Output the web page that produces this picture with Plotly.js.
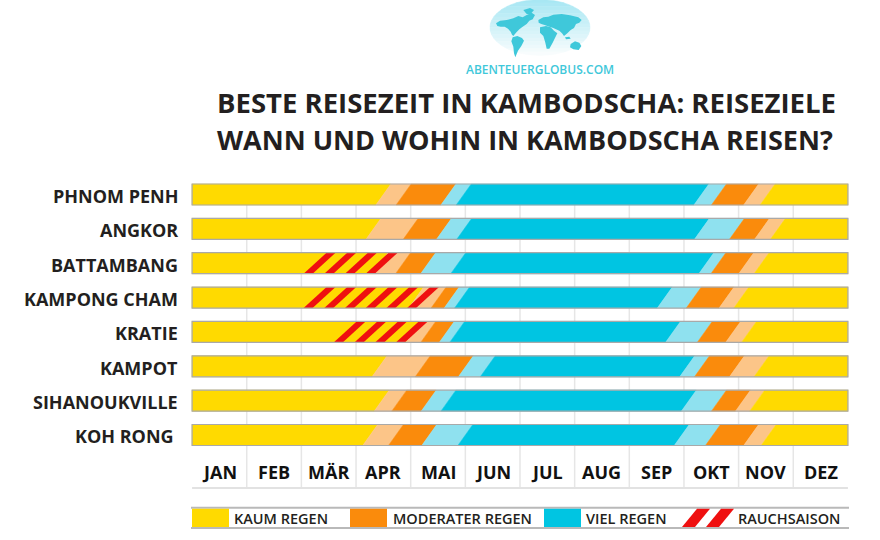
<!DOCTYPE html>
<html>
<head>
<meta charset="utf-8">
<script src="https://cdn.plot.ly/plotly-3.0.1.min.js"></script>
<style>html,body{margin:0;padding:0;background:#fff}</style>
</head>
<body>
<div id="chart" style="width:880px;height:540px"></div>
<script>
// Destinations (one bar each) and month captions
const destinations = ['PHNOM PENH', 'ANGKOR', 'BATTAMBANG', 'KAMPONG CHAM', 'KRATIE', 'KAMPOT', 'SIHANOUKVILLE', 'KOH RONG '];
const months = ['JAN', 'FEB', 'MÄR', 'APR', 'MAI', 'JUN', 'JUL', 'AUG', 'SEP', 'OKT', 'NOV', 'DEZ'];

// Season boundaries in months counted from 1 January (0) to 31 December (12)
const dryEnds        = [3.50, 3.32, 3.45, 4.10, 4.05, 3.43, 3.47, 3.26];
const moderateStarts = [3.87, 4.00, 3.86, 4.51, 4.32, 4.22, 3.79, 3.73];
const moderateEnds   = [4.69, 4.61, 4.32, 4.75, 4.66, 5.01, 4.33, 4.34];
const rainStarts     = [4.97, 4.98, 4.87, 4.94, 4.85, 5.41, 4.69, 5.00];
const rainEnds       = [9.32, 9.33, 9.41, 8.65, 8.80, 9.06, 9.09, 8.96];
const lateModStarts  = [9.64, 9.97, 9.63, 9.18, 9.38, 9.33, 9.64, 9.53];
const lateModEnds    = [10.23, 10.43, 10.14, 9.78, 9.90, 9.97, 10.08, 10.23];
const dryStarts      = [10.53, 10.72, 10.42, 10.05, 10.19, 10.42, 10.34, 10.55];

// Smoke season: month where the hatching begins and how many stripes it has
const smokeStarts  = [null, null, 2.04, 2.04, 2.59, null, null, null];
const smokeStripes = [0, 0, 4, 6, 4, 0, 0, 0];

const legendLabels = ['KAUM REGEN', 'MODERATER REGEN', 'VIEL REGEN', 'RAUCHSAISON'];

// ---- styling ----
const C = {
  dry: '#FFDA00', trans: '#FCC588', moderate: '#FA8B0C',
  lightRain: '#8FE1EF', rain: '#00C5E2', smoke: '#EF1010',
  text: '#231F20', grid: '#E6E6E6', frame: '#A9A9A9', logo: '#3FC8DA'
};
const FONT = 'Open Sans, Noto Sans, sans-serif';

// plot box in pixels
const M = {l: 191, r: 31, t: 175, b: 0};
const W = 880, Hgt = 540;
const PW = W - M.l - M.r, PH = Hgt - M.t - M.b;
const xp = px => (px - M.l) / PW;
const yp = py => (Hgt - M.b - py) / PH;

const ROW = 34.36;                 // px per row
const yTop = -(194.5 - M.t) / ROW; // first bar centre at 194.5px
const yBottom = yTop + PH / ROW;
const MPX = PW / 12.04;            // px per month
const HALF = 10.5 / ROW;           // half bar height (y units)
const SLANT = 15 / MPX;            // slant of season transitions
const ST_W = 9 / MPX, ST_S = 23 / MPX, ST_P = 20.7 / MPX;
const MONTH_ROW = 8.07, MONTH_LINE = 8.54;

const shapes = [];
const annotations = [];

// light month grid
for (let m = 1; m < 12; m++) {
  shapes.push({type: 'line', xref: 'x', yref: 'y', x0: m, x1: m, y0: -HALF, y1: MONTH_LINE,
    line: {color: C.grid, width: 1.5}, layer: 'below'});
}
shapes.push({type: 'line', xref: 'x', yref: 'y', x0: 0, x1: 12, y0: MONTH_LINE, y1: MONTH_LINE,
  line: {color: '#E2E2E2', width: 2}, layer: 'below'});

// season bars
const segColors = [C.dry, C.trans, C.moderate, C.lightRain, C.rain, C.lightRain, C.moderate, C.trans, C.dry];
destinations.forEach((name, i) => {
  const edges = [0, dryEnds[i], moderateStarts[i], moderateEnds[i], rainStarts[i],
    rainEnds[i], lateModStarts[i], lateModEnds[i], dryStarts[i], 12];
  const yb = i + HALF, yt = i - HALF;
  for (let k = 0; k < segColors.length; k++) {
    const l = edges[k], r = edges[k + 1];
    const lb = k === 0 ? l : l - SLANT / 2, lt = k === 0 ? l : l + SLANT / 2;
    const rb = k === 8 ? r : r - SLANT / 2, rt = k === 8 ? r : r + SLANT / 2;
    shapes.push({type: 'path', xref: 'x', yref: 'y',
      path: `M${lb},${yb} L${rb},${yb} L${rt},${yt} L${lt},${yt} Z`,
      fillcolor: segColors[k], line: {color: segColors[k], width: 0.5}, layer: 'above'});
  }
  if (smokeStarts[i] !== null) {
    for (let s = 0; s < smokeStripes[i]; s++) {
      const x0 = smokeStarts[i] + s * ST_P;
      shapes.push({type: 'path', xref: 'x', yref: 'y',
        path: `M${x0},${yb} L${x0 + ST_W},${yb} L${x0 + ST_W + ST_S},${yt} L${x0 + ST_S},${yt} Z`,
        fillcolor: C.smoke, line: {width: 0}, layer: 'above'});
    }
  }
  shapes.push({type: 'rect', xref: 'x', yref: 'y', x0: 0, x1: 12, y0: yt, y1: yb,
    line: {color: C.frame, width: 1.2}, fillcolor: 'rgba(0,0,0,0)', layer: 'above'});

  annotations.push({xref: 'paper', yref: 'y', x: xp(179.5), y: i + 0.04, text: name,
    xanchor: 'right', yanchor: 'middle', showarrow: false,
    font: {family: FONT, size: 18, color: C.text, weight: 700}});
});

// month captions
months.forEach((m, k) => {
  annotations.push({xref: 'x', yref: 'y', x: k + 0.5, y: MONTH_ROW, text: m,
    xanchor: 'center', yanchor: 'middle', showarrow: false,
    font: {family: FONT, size: 18, color: '#111', weight: 700}});
});

// legend strip
const LT = 507.7, LB = 528;
shapes.push({type: 'line', xref: 'paper', yref: 'paper', x0: xp(191), x1: xp(849), y0: yp(LT), y1: yp(LT),
  line: {color: '#B9B9B9', width: 2}});
shapes.push({type: 'line', xref: 'paper', yref: 'paper', x0: xp(191), x1: xp(849), y0: yp(LB), y1: yp(LB),
  line: {color: '#B9B9B9', width: 2}});
[[192, 229, C.dry], [350, 387, C.moderate], [544, 581, C.rain]].forEach(([a, b, c]) => {
  shapes.push({type: 'rect', xref: 'paper', yref: 'paper', x0: xp(a), x1: xp(b), y0: yp(LT + 1), y1: yp(LB - 1),
    fillcolor: c, line: {width: 0}});
});
[682, 706].forEach(a => {
  const b0 = yp(LB - 1), t0 = yp(LT + 1);
  shapes.push({type: 'path', xref: 'paper', yref: 'paper',
    path: `M${xp(a)},${b0} L${xp(a + 13)},${b0} L${xp(a + 28)},${t0} L${xp(a + 15)},${t0} Z`,
    fillcolor: C.smoke, line: {width: 0}});
});
[232, 391, 584, 736].forEach((px, k) => {
  annotations.push({xref: 'paper', yref: 'paper', x: xp(px), y: yp(518), text: legendLabels[k],
    xanchor: 'left', yanchor: 'middle', showarrow: false,
    font: {family: FONT, size: 14.5, color: C.text, weight: 600}});
});

// heading
annotations.push({xref: 'paper', yref: 'paper', x: xp(838), y: yp(103), xanchor: 'right', yanchor: 'middle',
  text: 'BESTE REISEZEIT IN KAMBODSCHA: REISEZIELE', showarrow: false,
  font: {family: FONT, size: 27.5, color: C.text, weight: 700}});
annotations.push({xref: 'paper', yref: 'paper', x: xp(835), y: yp(139), xanchor: 'right', yanchor: 'middle',
  text: 'WANN UND WOHIN IN KAMBODSCHA REISEN?', showarrow: false,
  font: {family: FONT, size: 27, color: C.text, weight: 700}});

// globe badge: ellipse with a vertical fade, drawn in horizontal slices
const G = {cx: 540, cy: 27.5, rx: 50, ry: 28};
const N = 16;
for (let j = 0; j < N; j++) {
  const y0 = G.cy - G.ry + j * (2 * G.ry / N), y1 = y0 + 2 * G.ry / N;
  const pts = [];
  const sub = 4;
  for (let s = 0; s <= sub; s++) {
    const y = y0 + (y1 - y0) * s / sub;
    const w = G.rx * Math.sqrt(Math.max(0, 1 - ((y - G.cy) / G.ry) ** 2));
    pts.push([G.cx - w, y]);
  }
  for (let s = sub; s >= 0; s--) {
    const y = y0 + (y1 - y0) * s / sub;
    const w = G.rx * Math.sqrt(Math.max(0, 1 - ((y - G.cy) / G.ry) ** 2));
    pts.push([G.cx + w, y]);
  }
  const t = j / (N - 1);
  const r = Math.round(168 + t * 80), g = Math.round(231 + t * 21), b = Math.round(243 + t * 10);
  shapes.push({type: 'path', xref: 'paper', yref: 'paper',
    path: 'M' + pts.map(p => `${xp(p[0])},${yp(p[1])}`).join(' L') + ' Z',
    fillcolor: `rgb(${r},${g},${b})`, line: {color: `rgb(${r},${g},${b})`, width: 0.5}});
}
const land = [
  [[48,70],[60,62],[80,60],[100,55],[115,48],[128,52],[140,45],[155,38],[165,45],[158,58],[148,62],[140,72],[128,80],[118,88],[108,98],[100,108],[96,104],[92,95],[84,86],[74,80],[62,80],[52,78]],
  [[130,30],[150,24],[162,30],[152,42],[140,42]],
  [[98,112],[112,108],[126,114],[132,122],[124,138],[114,152],[106,172],[102,160],[100,140],[94,124]],
  [[175,60],[190,52],[205,50],[220,44],[245,42],[270,46],[295,52],[305,60],[298,68],[288,72],[282,84],[272,90],[262,100],[252,108],[246,100],[238,92],[228,88],[220,84],[208,80],[196,76],[184,72],[176,68]],
  [[180,82],[198,78],[212,82],[222,92],[232,100],[226,112],[218,128],[208,146],[200,146],[196,128],[190,108],[180,98]],
  [[272,132],[285,124],[298,128],[304,138],[296,150],[280,148],[270,142]],
  [[255,112],[268,110],[272,116],[258,118]]
];
land.forEach(poly => {
  shapes.push({type: 'path', xref: 'paper', yref: 'paper',
    path: 'M' + poly.map(p => `${xp(480 + p[0] / 3)},${yp(p[1] / 3)}`).join(' L') + ' Z',
    fillcolor: C.logo, line: {width: 0}});
});
annotations.push({xref: 'paper', yref: 'paper', x: xp(540), y: yp(69.5), xanchor: 'center', yanchor: 'middle',
  text: 'ABENTEUERGLOBUS.COM', showarrow: false,
  font: {family: FONT, size: 12, color: C.logo, weight: 600}});

const layout = {
  width: W, height: Hgt,
  margin: M,
  paper_bgcolor: '#fff', plot_bgcolor: '#fff',
  showlegend: false,
  xaxis: {range: [-0.02, 12.02], visible: false, fixedrange: true},
  yaxis: {range: [yBottom, yTop], visible: false, fixedrange: true},
  shapes, annotations
};

// invisible anchor trace so the cartesian axes exist
const data = [{type: 'scatter', x: [0, 12], y: [0, 7], mode: 'markers', marker: {opacity: 0}, hoverinfo: 'skip'}];

Plotly.newPlot('chart', data, layout, {staticPlot: true});
</script>
</body>
</html>
